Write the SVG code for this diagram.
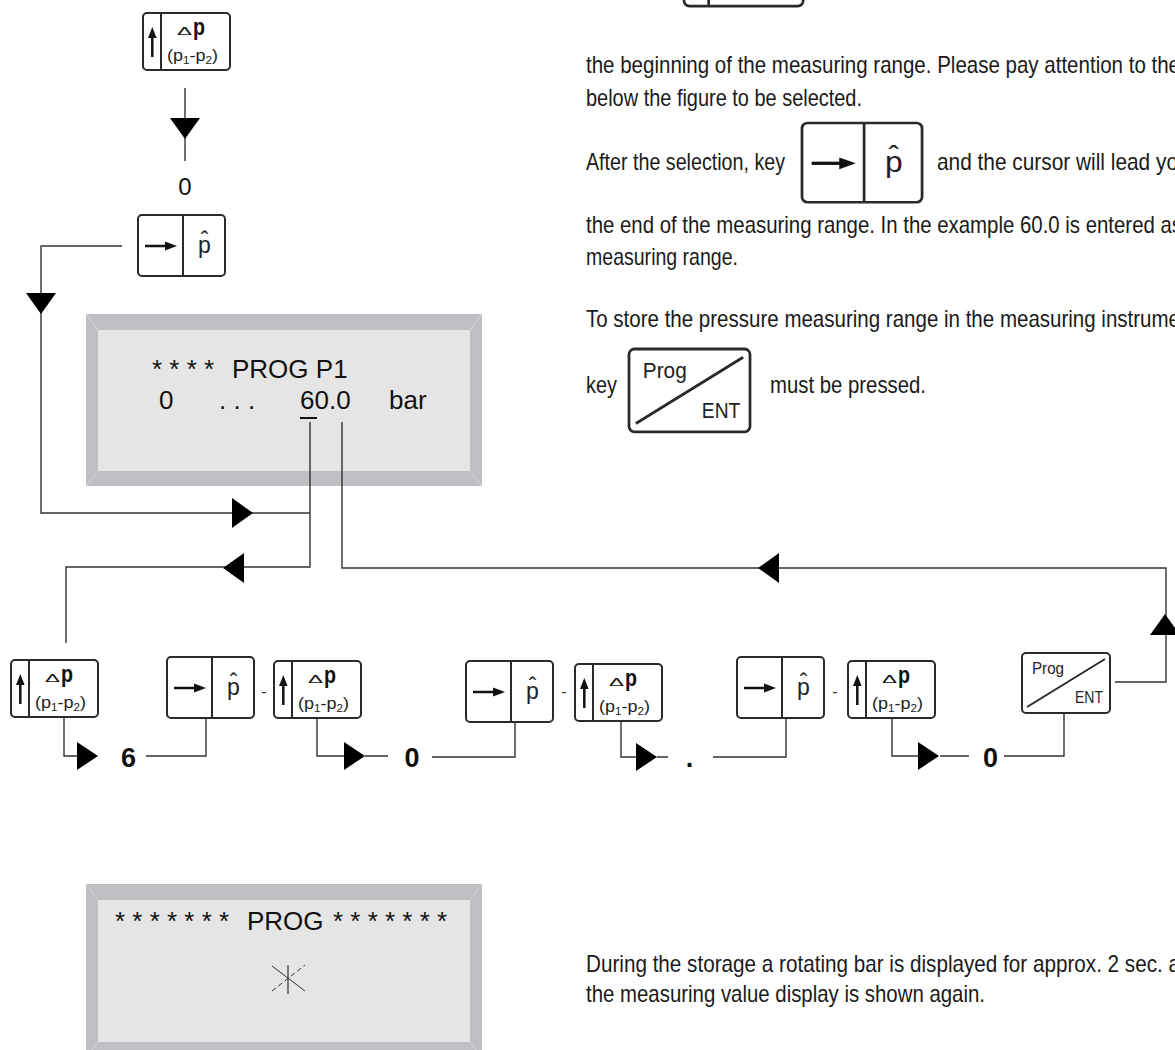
<svg xmlns="http://www.w3.org/2000/svg" xmlns:xlink="http://www.w3.org/1999/xlink" width="1175" height="1050" viewBox="0 0 1175 1050">
<style>
.kb{fill:#fff;stroke:#2a2a2a;stroke-width:2}
.kl{stroke:#2a2a2a;stroke-width:2}
.ka{stroke:#111;stroke-width:2.5}
.kh{fill:#111}
.dl{font-family:"Liberation Sans",Arial,sans-serif;font-size:11px;fill:#111}
.dp{font-family:"Liberation Sans",Arial,sans-serif;font-size:23px;font-weight:bold;fill:#111}
.sub{font-family:"Liberation Sans",Arial,sans-serif;font-size:17px;fill:#222}
.ss{font-size:11px}
.ph{font-family:"Liberation Sans",Arial,sans-serif;font-size:23px;fill:#222}
.pe{font-family:"Liberation Sans Narrow","Liberation Sans",Arial,sans-serif;font-size:16px;fill:#222}
.ln{fill:none;stroke:#333;stroke-width:1.4}
.ah{fill:#000}
.body{font-family:"Liberation Sans Narrow","Liberation Sans",Arial,sans-serif;font-size:24px;fill:#1a1a1a}
.disp{font-family:"Liberation Sans",Arial,sans-serif;font-size:26px;fill:#111}
.num{font-family:"Liberation Sans",Arial,sans-serif;font-size:27px;font-weight:bold;fill:#111}
.mid{font-family:"Liberation Sans",Arial,sans-serif;font-size:24px;fill:#111}
.dash{font-family:"Liberation Sans",Arial,sans-serif;font-size:16px;fill:#333}
.fo{fill:#bebfc2}
.fi{fill:#e5e5e5}
.fm{stroke:#d6d6d8;stroke-width:1}
</style>
<defs>
<path id="tri" d="M0,-15 L21,0 L0,15 Z"/>
<g id="kDp">
<rect class="kb" x="0" y="0" width="87" height="57" rx="4"/>
<line class="kl" x1="18" y1="0" x2="18" y2="57"/>
<line class="ka" x1="9.3" y1="44" x2="9.3" y2="22"/>
<polygon class="kh" points="5,25 9.3,14 13.6,25"/>
<text class="dl" x="34" y="22" textLength="15" lengthAdjust="spacingAndGlyphs">Δ</text>
<text class="dp" x="50" y="22" textLength="12" lengthAdjust="spacingAndGlyphs">p</text>
<text class="sub" x="24" y="48" textLength="51" lengthAdjust="spacingAndGlyphs">(p<tspan class="ss" dy="3">1</tspan><tspan dy="-3">-p</tspan><tspan class="ss" dy="3">2</tspan><tspan dy="-3">)</tspan></text>
</g>
<g id="kAr">
<rect class="kb" x="0" y="0" width="87" height="61" rx="4"/>
<line class="kl" x1="45" y1="0" x2="45" y2="61"/>
<line class="ka" x1="7" y1="31" x2="29" y2="31"/>
<polygon class="kh" points="27,26.5 39,31 27,35.5"/>
<text class="ph" x="66.5" y="38" text-anchor="middle">p</text>
<text class="ph" x="66.5" y="33" text-anchor="middle">ˆ</text>
</g>
<g id="kPr">
<rect class="kb" x="0" y="0" width="88" height="60" rx="4"/>
<line class="kl" x1="5" y1="54" x2="83" y2="6"/>
<text class="pe" x="10" y="21" textLength="32" lengthAdjust="spacingAndGlyphs">Prog</text>
<text class="pe" x="81" y="50" text-anchor="end" textLength="28" lengthAdjust="spacingAndGlyphs">ENT</text>
</g>
</defs>

<rect width="1175" height="1050" fill="#fff"/>

<!-- Left column flow -->
<g id="key-dp-top"><use xlink:href="#kDp" x="143" y="13"/></g>
<g id="label-zero-top"><text class="mid" x="185" y="195" text-anchor="middle">0</text></g>
<g id="key-arrow-top"><use xlink:href="#kAr" x="138" y="215"/></g>

<g id="display-prog-p1">
<rect class="fo" x="86" y="314" width="396" height="172"/>
<line class="fm" x1="86" y1="314" x2="98" y2="330"/>
<line class="fm" x1="482" y1="314" x2="470" y2="330"/>
<line class="fm" x1="86" y1="486" x2="98" y2="471"/>
<line class="fm" x1="482" y1="486" x2="470" y2="471"/>
<rect class="fi" x="98" y="330" width="372" height="141"/>
<text class="disp" x="152" y="378">* * * *</text>
<text class="disp" x="232" y="378">PROG P1</text>
<text class="disp" x="159" y="409">0</text>
<text class="disp" x="219" y="409">. . .</text>
<text class="disp" x="300" y="409">60.0</text>
<text class="disp" x="389" y="409">bar</text>
<line x1="300" y1="418" x2="317" y2="418" stroke="#111" stroke-width="2"/>
</g>

<!-- Bottom key row -->
<g id="key-dp-1"><use xlink:href="#kDp" x="11" y="660"/></g>
<g id="label-6"><text class="num" x="128.5" y="767" text-anchor="middle">6</text></g>
<g id="key-arrow-1"><use xlink:href="#kAr" x="167" y="657"/></g>
<g id="dash-1"><text class="dash" x="264" y="697" text-anchor="middle">-</text></g>
<g id="key-dp-2"><use xlink:href="#kDp" x="274" y="661"/></g>
<g id="label-0a"><text class="num" x="412" y="767" text-anchor="middle">0</text></g>
<g id="key-arrow-2"><use xlink:href="#kAr" x="466" y="661"/></g>
<g id="dash-2"><text class="dash" x="564" y="697" text-anchor="middle">-</text></g>
<g id="key-dp-3"><use xlink:href="#kDp" x="575" y="664"/></g>
<g id="label-dot"><text class="num" x="689.5" y="767" text-anchor="middle">.</text></g>
<g id="key-arrow-3"><use xlink:href="#kAr" x="737" y="657"/></g>
<g id="dash-3"><text class="dash" x="835" y="697" text-anchor="middle">-</text></g>
<g id="key-dp-4"><use xlink:href="#kDp" x="848" y="661"/></g>
<g id="label-0b"><text class="num" x="990.5" y="767" text-anchor="middle">0</text></g>
<g id="key-prog"><use xlink:href="#kPr" x="1022" y="653"/></g>

<!-- Display 2 -->
<g id="display-prog-store">
<rect class="fo" x="86" y="884" width="396" height="174"/>
<line class="fm" x1="86" y1="884" x2="98" y2="900"/>
<line class="fm" x1="482" y1="884" x2="470" y2="900"/>
<line class="fm" x1="86" y1="1058" x2="98" y2="1042"/>
<line class="fm" x1="482" y1="1058" x2="470" y2="1042"/>
<rect class="fi" x="98" y="900" width="372" height="142"/>
<text class="disp" x="115" y="930">* * * * * * *</text>
<text class="disp" x="247" y="930">PROG</text>
<text class="disp" x="333" y="930">* * * * * * *</text>
<line x1="288" y1="965" x2="288" y2="994" stroke="#333" stroke-width="1.2"/>
<line x1="272" y1="966" x2="305" y2="991" stroke="#333" stroke-width="1"/>
<line x1="272" y1="991" x2="305" y2="965" stroke="#333" stroke-width="1" stroke-dasharray="5,3"/>
</g>

<!-- Right text column -->
<g id="key-dp-big"><use xlink:href="#kDp" transform="translate(684,-72) scale(1.37)"/></g>
<g id="text-1">
<text class="body" x="586" y="73" textLength="594" lengthAdjust="spacingAndGlyphs">the beginning of the measuring range. Please pay attention to the</text>
<text class="body" x="586" y="106" textLength="276" lengthAdjust="spacingAndGlyphs">below the figure to be selected.</text>
</g>
<g id="text-2">
<text class="body" x="586" y="170" textLength="199" lengthAdjust="spacingAndGlyphs">After the selection, key</text>
<text class="body" x="937" y="170" textLength="241" lengthAdjust="spacingAndGlyphs">and the cursor will lead yo</text>
</g>
<g id="key-arrow-big"><use xlink:href="#kAr" transform="translate(802,123) scale(1.38,1.3)"/></g>
<g id="text-3">
<text class="body" x="586" y="233" textLength="596" lengthAdjust="spacingAndGlyphs">the end of the measuring range. In the example 60.0 is entered as</text>
<text class="body" x="586" y="265" textLength="152" lengthAdjust="spacingAndGlyphs">measuring range.</text>
</g>
<g id="text-4">
<text class="body" x="586" y="327" textLength="594" lengthAdjust="spacingAndGlyphs">To store the pressure measuring range in the measuring instrume</text>
<text class="body" x="586" y="393" textLength="31" lengthAdjust="spacingAndGlyphs">key</text>
<text class="body" x="770" y="393" textLength="156" lengthAdjust="spacingAndGlyphs">must be pressed.</text>
</g>
<g id="key-prog-big"><use xlink:href="#kPr" transform="translate(629,349) scale(1.375,1.38)"/></g>
<g id="text-5">
<text class="body" x="586" y="972" textLength="594" lengthAdjust="spacingAndGlyphs">During the storage a rotating bar is displayed for approx. 2 sec. a</text>
<text class="body" x="586" y="1002" textLength="399" lengthAdjust="spacingAndGlyphs">the measuring value display is shown again.</text>
</g>

<!-- Connectors -->
<g id="connectors">
<g class="ln">
<path d="M185,88 V161"/>
<path d="M122,246 H41 V513 H310"/>
<path d="M310,422 V567 H66 V643"/>
<path d="M342,422 V568 H1166 V682 H1115"/>
<path d="M64,718 V756 H77"/>
<path d="M146,756 H206 V718"/>
<path d="M317,718 V756 H345 M365,756 H388"/>
<path d="M432,757 H515 V722"/>
<path d="M621,721 V757 H636 M657,757 H668"/>
<path d="M713,757 H786 V718"/>
<path d="M892,717 V756 H918 M940,756 H969"/>
<path d="M1004,756 H1064 V713"/>
</g>
<use xlink:href="#tri" class="ah" transform="translate(185,118) rotate(90)"/>
<use xlink:href="#tri" class="ah" transform="translate(41,293) rotate(90)"/>
<use xlink:href="#tri" class="ah" transform="translate(232,513)"/>
<use xlink:href="#tri" class="ah" transform="translate(244,568) rotate(180)"/>
<use xlink:href="#tri" class="ah" transform="translate(779,568) rotate(180)"/>
<use xlink:href="#tri" class="ah" transform="translate(1165,635) rotate(-90)"/>
<use xlink:href="#tri" class="ah" transform="translate(77,756) scale(1,0.93)"/>
<use xlink:href="#tri" class="ah" transform="translate(344,756) scale(1,0.93)"/>
<use xlink:href="#tri" class="ah" transform="translate(636,757) scale(1,0.93)"/>
<use xlink:href="#tri" class="ah" transform="translate(918,756) scale(1,0.93)"/>
</g>
</svg>
